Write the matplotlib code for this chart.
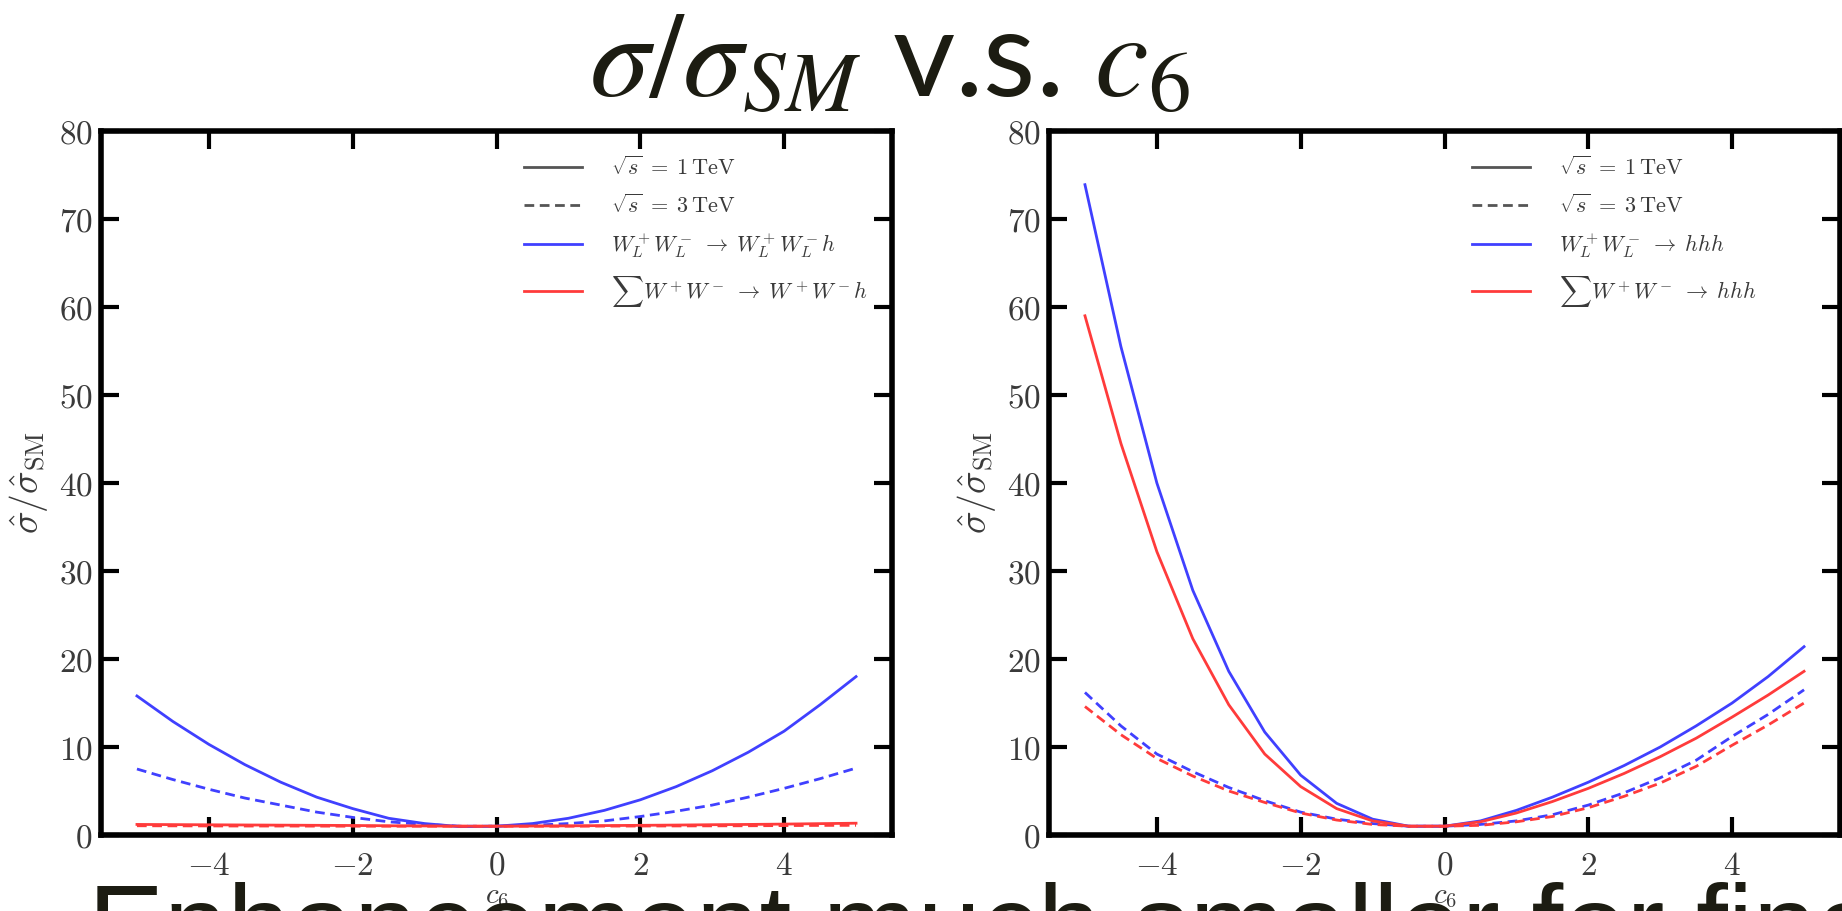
import matplotlib
matplotlib.use("Agg")
import matplotlib.pyplot as plt
from matplotlib.lines import Line2D

plt.rcParams['mathtext.fontset'] = 'cm'
plt.rcParams['font.family'] = ['DejaVu Sans']

# ---------------- data ----------------
c6 = [-5, -4.5, -4, -3.5, -3, -2.5, -2, -1.5, -1, -0.5, 0,
      0.5, 1, 1.5, 2, 2.5, 3, 3.5, 4, 4.5, 5]

# left panel: W+W- -> W+W- h
left_blue_1tev = [15.8, 12.9, 10.3, 8.0, 6.0, 4.3, 3.0, 1.9, 1.3, 0.95, 1.0,
                  1.3, 1.9, 2.8, 4.0, 5.5, 7.3, 9.4, 11.8, 14.8, 18.0]
left_blue_3tev = [7.5, 6.3, 5.2, 4.2, 3.4, 2.6, 2.0, 1.5, 1.2, 1.0, 1.0,
                  1.1, 1.3, 1.6, 2.1, 2.7, 3.4, 4.3, 5.3, 6.4, 7.6]
left_red_1tev = [1.2, 1.18, 1.16, 1.14, 1.12, 1.1, 1.08, 1.05, 1.03, 1.0, 1.0,
                 1.02, 1.04, 1.07, 1.1, 1.13, 1.17, 1.2, 1.24, 1.29, 1.34]
left_red_3tev = [1.05, 1.04, 1.03, 1.02, 1.02, 1.01, 1.0, 1.0, 1.0, 1.0, 1.0,
                 1.0, 1.0, 1.01, 1.02, 1.03, 1.04, 1.05, 1.07, 1.09, 1.1]

# right panel: W+W- -> hhh
right_blue_1tev = [73.9, 55.5, 40.0, 27.8, 18.6, 11.7, 6.8, 3.6, 1.8, 1.0, 1.0,
                   1.6, 2.8, 4.3, 6.0, 7.9, 10.0, 12.4, 15.0, 18.0, 21.4]
right_red_1tev = [59.0, 44.5, 32.2, 22.3, 14.8, 9.2, 5.5, 3.0, 1.6, 1.0, 1.0,
                  1.5, 2.5, 3.8, 5.3, 7.0, 8.9, 11.0, 13.4, 15.9, 18.6]
right_blue_3tev = [16.2, 12.4, 9.2, 7.2, 5.4, 3.9, 2.6, 1.8, 1.3, 1.0, 1.0,
                   1.2, 1.6, 2.3, 3.4, 4.8, 6.5, 8.5, 11.2, 13.7, 16.5]
right_red_3tev = [14.6, 11.4, 8.7, 6.7, 5.0, 3.7, 2.5, 1.7, 1.2, 1.0, 1.0,
                  1.1, 1.5, 2.1, 3.1, 4.4, 5.9, 7.8, 10.2, 12.5, 15.0]

xtick_vals = [-4, -2, 0, 2, 4]
ytick_vals = [0, 10, 20, 30, 40, 50, 60, 70, 80]

legend_common = [r'$\sqrt{s}\;=\;1\,\mathrm{TeV}$', r'$\sqrt{s}\;=\;3\,\mathrm{TeV}$']
legend_left = [r'$W_L^+W_L^-\;\to\; W_L^+W_L^-h$', r'$\sum W^+W^-\;\to\; W^+W^-h$']
legend_right = [r'$W_L^+W_L^-\;\to\; hhh$', r'$\sum W^+W^-\;\to\; hhh$']

title_text = r'$\sigma/\sigma_{SM}$ v.s. $c_6$'
bottom_text = 'Enhancement much smaller for final states'

# ---------------- figure ----------------
W, H = 1842, 911
fig = plt.figure(figsize=(W / 100, H / 100), dpi=100)

BLUE = '#4040ff'
RED = '#ff3b3b'
TXT = '#3a3a3a'
DASH = (0, (3.5, 2))


def make_axes(left_px, series, labels):
    ax = fig.add_axes([left_px / W, (H - 835) / H, 791 / W, 704 / H])
    b1, b3, r1, r3 = series
    ax.plot(c6, b1, color=BLUE, lw=2.0, ls='-')
    ax.plot(c6, b3, color=BLUE, lw=2.0, ls=DASH)
    ax.plot(c6, r1, color=RED, lw=2.0, ls='-')
    ax.plot(c6, r3, color=RED, lw=2.0, ls=DASH)
    ax.set_xlim(-5.5, 5.5)
    ax.set_ylim(0, 80)
    ax.set_xticks(xtick_vals)
    ax.set_xticklabels([rf'${v}$' for v in xtick_vals])
    ax.set_yticks(ytick_vals)
    ax.set_yticklabels([rf'${v}$' for v in ytick_vals])
    ax.tick_params(direction='in', length=13, width=3, top=True, right=True,
                   labelsize=24, labelcolor=TXT, color='black')
    ax.tick_params(axis='x', pad=10)
    ax.tick_params(axis='y', pad=6)
    for s in ax.spines.values():
        s.set_linewidth(4)
    ax.set_ylabel(r'$\hat{\sigma}/\hat{\sigma}_{\mathrm{SM}}$', fontsize=27,
                  color=TXT, labelpad=6)
    ax.set_xlabel(r'$c_6$', fontsize=21, color=TXT, labelpad=0)
    handles = [Line2D([], [], color='#555555', lw=2.0, ls='-'),
               Line2D([], [], color='#555555', lw=2.0, ls=DASH),
               Line2D([], [], color=BLUE, lw=2.0),
               Line2D([], [], color=RED, lw=2.0)]
    leg = ax.legend(handles, legend_common + labels, loc='upper left',
                    bbox_to_anchor=(0.535, 0.965), frameon=False,
                    fontsize=16, handlelength=2.6, handletextpad=1.3,
                    labelspacing=0.65, borderaxespad=0, borderpad=0)
    for t in leg.get_texts():
        t.set_color(TXT)
    return ax


make_axes(101, (left_blue_1tev, left_blue_3tev, left_red_1tev, left_red_3tev),
          legend_left)
make_axes(1049, (right_blue_1tev, right_blue_3tev, right_red_1tev, right_red_3tev),
          legend_right)

fig.text(890 / W, 1 - 96 / H, title_text, ha='center', va='baseline',
         fontsize=87, color='#1c1c12', family='Lato', math_fontfamily='stix')
fig.text(88 / W, 1 - 964 / H, bottom_text, ha='left', va='baseline',
         fontsize=82, color='#1c1c12', family='Liberation Sans')

fig.savefig('out.png', dpi=100)
